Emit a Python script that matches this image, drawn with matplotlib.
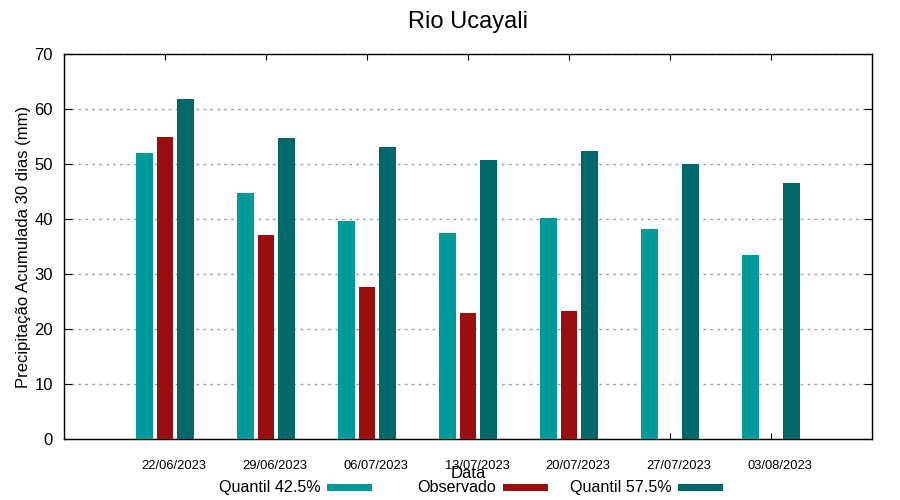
import matplotlib
matplotlib.use('Agg')
import matplotlib.pyplot as plt
from matplotlib.patches import Rectangle
import numpy as np

plt.rcParams['font.family'] = ['Liberation Sans', 'DejaVu Sans']

datas = ['22/06/2023', '29/06/2023', '06/07/2023', '13/07/2023',
         '20/07/2023', '27/07/2023', '03/08/2023']
q425 = [52.0, 44.7, 39.6, 37.5, 40.2, 38.2, 33.5]
observado = [54.9, 37.1, 27.6, 22.9, 23.3, np.nan, np.nan]
q575 = [61.8, 54.7, 53.1, 50.7, 52.4, 50.0, 46.5]

nomes = ['Quantil 42.5%', 'Observado', 'Quantil 57.5%']
cores = ['#009999', '#990f0f', '#006868']

fig = plt.figure(figsize=(9, 5), dpi=100)
ax = fig.add_axes([64 / 900, 61 / 500, 808 / 900, 385 / 500])

x = np.arange(len(datas))
w = 0.165
off = 0.205
for k, serie in enumerate([q425, observado, q575]):
    ax.bar(x + (k - 1) * off, serie, w, color=cores[k], label=nomes[k], zorder=3)

ax.set_xlim(-1, 7)
ax.set_ylim(0, 70)
ax.set_yticks(range(0, 71, 10))
# ticks at group centre, labels drawn a bit to the right (as in the original)
ax.set_xticks(x)
ax.set_xticklabels([])
ax.set_xticks(x + 0.09, minor=True)
ax.set_xticklabels(datas, minor=True, fontsize=9.3)
ax.tick_params(axis='x', which='minor', length=0, pad=15)
ax.tick_params(axis='x', which='major', direction='in', length=4, top=True)
ax.tick_params(axis='y', labelsize=12, direction='in', length=6, right=True, pad=8)
ax.grid(axis='y', color='#a0a0a0', linestyle=(0, (2, 3)), linewidth=1, zorder=0)
for s in ax.spines.values():
    s.set_linewidth(1)

ax.set_ylabel('Precipitação Acumulada 30 dias (mm)', fontsize=12, labelpad=2)
ax.set_xlabel('Data', fontsize=12, labelpad=-4)
ax.set_title('Rio Ucayali', fontsize=17, pad=19)

# gnuplot-like key: equal column widths, text right-aligned before the sample
W, H = 900, 500
fim_amostra = 372
larg_col = 175.5
larg_amostra = 45
y_key = 487.5
for k, (nome, cor) in enumerate(zip(nomes, cores)):
    x1 = fim_amostra + k * larg_col
    x0 = x1 - larg_amostra
    fig.add_artist(Rectangle((x0 / W, 1 - (y_key + 3.5) / H), larg_amostra / W, 7 / H,
                             transform=fig.transFigure, color=cor, lw=0))
    fig.text((x0 - 6) / W, 1 - y_key / H, nome, ha='right', va='center', fontsize=11.6)

fig.savefig('out.png', dpi=100)
